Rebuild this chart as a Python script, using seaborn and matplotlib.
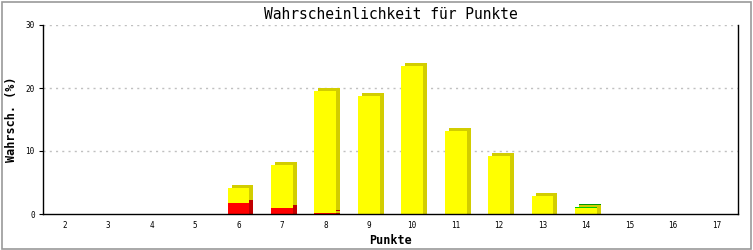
import matplotlib
matplotlib.use("Agg")
import matplotlib.pyplot as plt
import matplotlib.transforms as mtransforms
from matplotlib.patches import Rectangle
import seaborn as sns
import numpy as np
import pandas as pd

# ---- data ----
punkte = [2, 3, 4, 5, 6, 7, 8, 9, 10, 11, 12, 13, 14, 15, 16, 17]
rot = [0, 0, 0, 0, 1.8, 0.95, 0.1, 0, 0, 0, 0, 0, 0, 0, 0, 0]
gelb = [0, 0, 0, 0, 2.35, 6.85, 19.4, 18.7, 23.5, 13.2, 9.25, 2.9, 1.0, 0, 0, 0]
gruen = [0, 0, 0, 0, 0, 0, 0, 0, 0, 0, 0, 0, 0.1, 0, 0, 0]
y_ticks = [0, 10, 20, 30]

title = "Wahrscheinlichkeit für Punkte"
xlabel = "Punkte"
ylabel = "Wahrsch. (%)"

sns.set_theme(style="white")
plt.rcParams["font.family"] = ["DejaVu Sans Mono", "DejaVu Sans"]
plt.rcParams.update({"text.color": "black", "axes.labelcolor": "black",
                     "xtick.color": "black", "ytick.color": "black"})

df = pd.DataFrame({"punkte": [str(p) for p in punkte],
                   "rot": rot, "gelb": gelb, "gruen": gruen})
df["s1"] = df["rot"]
df["s2"] = df["rot"] + df["gelb"]
df["s3"] = df["s2"] + df["gruen"]

fig = plt.figure(figsize=(7.53, 2.5), dpi=100)
W, H = 753, 250
ax = fig.add_axes([43 / W, (H - 214) / H, (738 - 43) / W, (214 - 25) / H])

order = [str(p) for p in punkte]
bw = 0.5
layers = [("s3", "#00cc00", "#009900"),
          ("s2", "#ffff00", "#d2cd00"),
          ("s1", "#ff0000", "#c00000")]

# shadow (3D side / top) layers: one shifted right+up, one shifted right only
shifts = [mtransforms.ScaledTranslation(4 / 100, 3 / 100, fig.dpi_scale_trans),
          mtransforms.ScaledTranslation(4 / 100, 0, fig.dpi_scale_trans)]
for col, front, shade in layers:
    for sh in shifts:
        n0 = len(ax.patches)
        sns.barplot(data=df, x="punkte", y=col, order=order, color=shade,
                    width=bw, linewidth=0, saturation=1, ax=ax, errorbar=None)
        for p in ax.patches[n0:]:
            p.set_transform(ax.transData + sh)
            p.set_zorder(2)
            p.set_edgecolor("none")
            p.set_antialiased(False)
# front faces
for col, front, shade in layers:
    n0 = len(ax.patches)
    sns.barplot(data=df, x="punkte", y=col, order=order, color=front,
                width=bw, linewidth=0, saturation=1, ax=ax, errorbar=None)
    for p in ax.patches[n0:]:
        p.set_zorder(3)
        p.set_edgecolor("none")
        p.set_antialiased(False)

ax.set_xlim(-0.5, len(punkte) - 0.5)
ax.set_ylim(0, 30)
ax.set_yticks(y_ticks)
ax.set_yticklabels([str(t) for t in y_ticks])
for t in y_ticks[1:]:
    ax.axhline(t, color="#c0c0c0", lw=1.0, ls=(0, (1.5, 3)), zorder=1)

for s in ["left", "bottom", "right"]:
    ax.spines[s].set_visible(True)
    ax.spines[s].set_color("black")
    ax.spines[s].set_linewidth(1.0)
    ax.spines[s].set_zorder(4)
ax.spines["top"].set_visible(False)

ax.tick_params(axis="y", which="both", left=True, length=3, width=0.8,
               labelsize=5.5, pad=3, color="black", labelcolor="black")
ax.tick_params(axis="x", which="both", bottom=False, length=0,
               labelsize=5.5, pad=5, labelcolor="black")
ax.grid(False)

ax.set_title(title, fontsize=10.5, pad=4, color="black")
ax.set_xlabel(xlabel, fontsize=8.5, fontweight="bold", color="black")
ax.set_ylabel(ylabel, fontsize=8.5, fontweight="bold", color="black")
ax.xaxis.set_label_coords(0.5, -(234 - 214) / 189)
ax.yaxis.set_label_coords(-(43 - 18) / 695, 0.5)

fig.patches.append(Rectangle((1.5 / W, 1.5 / H), (W - 3.5) / W, (H - 3.5) / H,
                             transform=fig.transFigure, fill=False,
                             edgecolor="#9a9a9a", lw=1.2))

fig.savefig("out.png", dpi=100, facecolor="white")
